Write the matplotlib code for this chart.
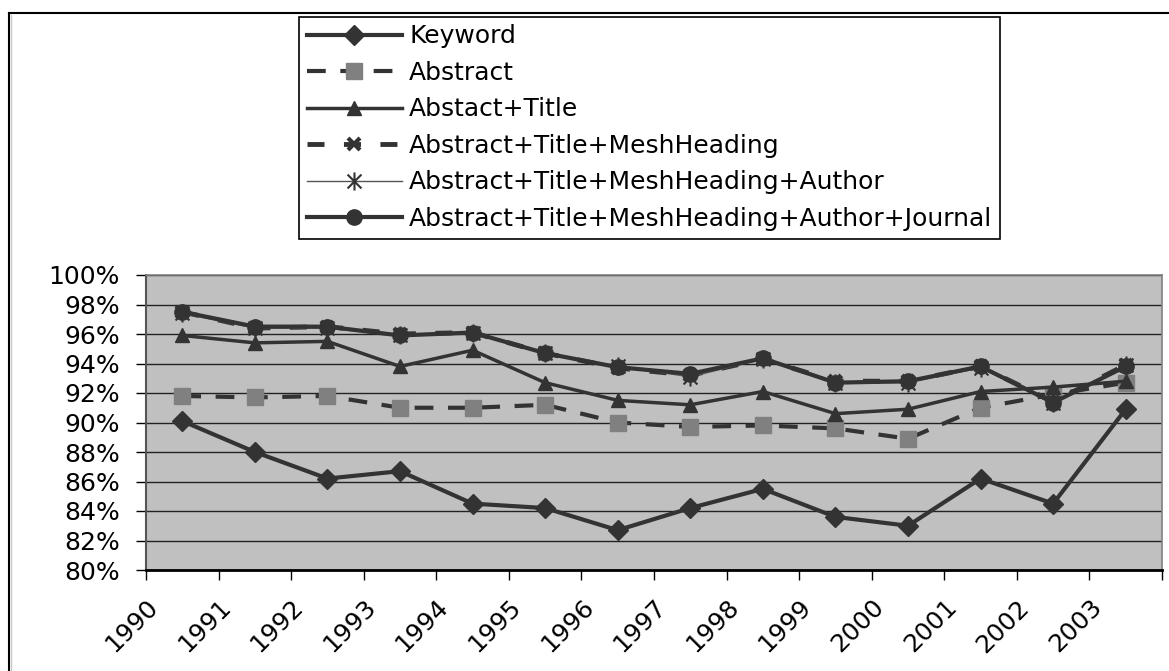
import matplotlib
matplotlib.use("Agg")
import matplotlib.pyplot as plt
from matplotlib.path import Path
from matplotlib.lines import Line2D
import numpy as np

plt.rcParams['font.family'] = ['DejaVu Sans']

years = ["1990", "1991", "1992", "1993", "1994", "1995", "1996",
         "1997", "1998", "1999", "2000", "2001", "2002", "2003"]

keyword = [90.1, 88.0, 86.2, 86.7, 84.5, 84.2, 82.7, 84.2, 85.5, 83.6, 83.0, 86.2, 84.5, 90.9]
abstract = [91.8, 91.7, 91.8, 91.0, 91.0, 91.2, 90.0, 89.7, 89.8, 89.6, 88.9, 91.0, 91.9, 92.7]
abs_title = [95.9, 95.4, 95.5, 93.8, 94.9, 92.7, 91.5, 91.2, 92.1, 90.6, 90.9, 92.1, 92.4, 92.8]
abs_title_mesh = [97.5, 96.4, 96.5, 96.0, 96.1, 94.7, 93.7, 93.2, 94.3, 92.8, 92.8, 93.8, 91.4, 93.9]
abs_title_mesh_author = [97.4, 96.4, 96.4, 95.9, 96.1, 94.7, 93.8, 93.1, 94.3, 92.7, 92.7, 93.7, 91.3, 93.9]
abs_title_mesh_author_journal = [97.5, 96.5, 96.5, 95.9, 96.1, 94.7, 93.75, 93.3, 94.35, 92.7, 92.8, 93.8, 91.35, 93.8]

labels = ["Keyword", "Abstract", "Abstact+Title", "Abstract+Title+MeshHeading",
          "Abstract+Title+MeshHeading+Author",
          "Abstract+Title+MeshHeading+Author+Journal"]

W, H = 1169, 671
fig = plt.figure(figsize=(W / 100, H / 100), dpi=100)
fig.patch.set_facecolor("white")

# outer chart border (left and top visible)
fig.add_artist(Line2D([8.5 / W, 8.5 / W], [0, 1 - 12.5 / H], transform=fig.transFigure,
                      color="black", lw=1.5))
fig.add_artist(Line2D([8.5 / W, 1], [1 - 12.5 / H, 1 - 12.5 / H], transform=fig.transFigure,
                      color="black", lw=1.5))
fig.add_artist(Line2D([10.5 / W, 10.5 / W], [0, 1 - 14.5 / H], transform=fig.transFigure,
                      color="#C8C8C8", lw=1))

left, right, top, bottom = 146, 1162, 275, 570
ax = fig.add_axes([left / W, 1 - bottom / H, (right - left) / W, (bottom - top) / H])
ax.set_facecolor("#C0C0C0")

x = np.arange(len(years)) + 0.5
dark = "#333333"

asterisk = Path([(-1, -1), (1, 1), (-1, 1), (1, -1), (0, -1.3), (0, 1.3)],
                [Path.MOVETO, Path.LINETO, Path.MOVETO, Path.LINETO, Path.MOVETO, Path.LINETO])

ax.plot(x, keyword, color=dark, lw=3, marker="D", markersize=10,
        markerfacecolor=dark, markeredgecolor=dark, label=labels[0], zorder=3)
ax.plot(x, abstract, color=dark, lw=3, linestyle=(0, (4.5, 3.5)), marker="s", markersize=12,
        markerfacecolor="#808080", markeredgecolor="#808080", label=labels[1], zorder=3)
ax.plot(x, abs_title, color=dark, lw=2.5, marker="^", markersize=10,
        markerfacecolor=dark, markeredgecolor=dark, label=labels[2], zorder=3)
ax.plot(x, abs_title_mesh, color=dark, lw=3.5, linestyle=(0, (3.5, 4)), marker="x", markersize=8,
        markeredgewidth=3, markeredgecolor=dark, label=labels[3], zorder=3)
ax.plot(x, abs_title_mesh_author, color="#555555", lw=1, marker=asterisk, markersize=13,
        markeredgewidth=1.5, markeredgecolor=dark, label=labels[4], zorder=3)
ax.plot(x, abs_title_mesh_author_journal, color=dark, lw=3, marker="o", markersize=11,
        markerfacecolor=dark, markeredgecolor=dark, label=labels[5], zorder=4)

ax.set_xlim(0, len(years))
ax.set_ylim(80, 100)
yt = np.arange(80, 101, 2)
ax.set_yticks(yt)
ax.set_yticklabels([f"{v}%" for v in yt], fontsize=18)
ax.yaxis.grid(True, color="#222222", lw=1)
ax.set_axisbelow(True)

ax.set_xticks(np.arange(len(years) + 1))
ax.set_xticklabels(years + [""], fontsize=18, rotation=45, ha="right",
                   rotation_mode="anchor")
ax.tick_params(axis="x", direction="out", length=7, width=1, color="black", pad=11)
ax.tick_params(axis="y", direction="out", length=7, width=1, color="black", pad=12)

for s in ["top", "right"]:
    ax.spines[s].set_color("#808080")
    ax.spines[s].set_linewidth(1.2)
ax.spines["left"].set_color("#555555")
ax.spines["left"].set_linewidth(1.5)
ax.spines["bottom"].set_color("black")
ax.spines["bottom"].set_linewidth(2)

leg = fig.legend(loc="upper left", bbox_to_anchor=(299 / W, 1 - 17 / H),
                 fontsize=18, frameon=True, fancybox=False, framealpha=1,
                 edgecolor="black", handlelength=3.8, handletextpad=0.3,
                 labelspacing=0.5, borderpad=0.3, borderaxespad=0)
leg.get_frame().set_linewidth(1.2)

fig.savefig("out.png", dpi=100, facecolor="white")
